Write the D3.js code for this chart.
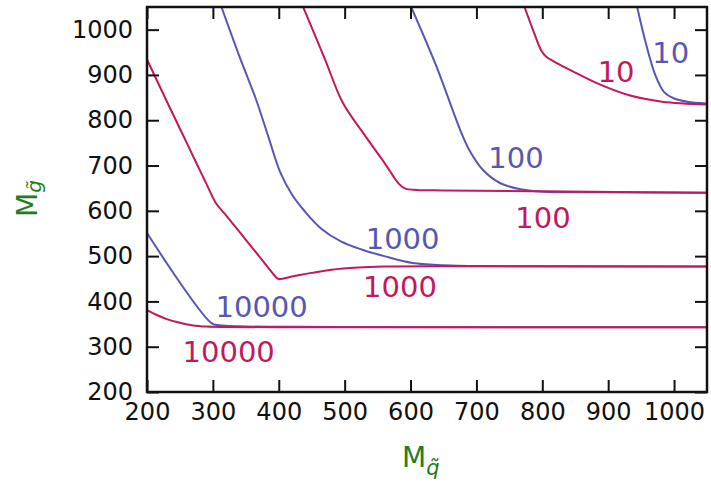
<!DOCTYPE html>
<html>
<head>
<meta charset="utf-8">
<script src="https://cdn.jsdelivr.net/npm/d3@7"></script>
<style>
  body { margin: 0; background: #fff; }
  svg { display: block; font-family: "DejaVu Sans", Verdana, sans-serif; }
</style>
</head>
<body>
<svg id="chart" width="711" height="488"></svg>
<script>
// contour lines, [M_squark, M_gluino]
const red10000 = [[200,381],[215,370],[230,361],[250,353],[270,347],[290,344.5],[320,343.5],[400,343],[600,343],[1050,343]];
const blue10000 = [[200,551],[298,352],[310,347.5],[340,345],[400,344],[500,343.5],[1050,343]];
const red1000 = [[200,934],[230,842],[260,751],[290,660],[305,616],[320,590],[345,545],[370,500],[392,460],[399,450],[420,455],[450,463],[480,470],[520,475],[560,477],[700,477.5],[1050,477]];
const blue1000 = [[313,1050],[340,942],[365,848],[385,760],[402,686],[420,636],[440,598],[465,560],[495,532],[527,514],[560,500],[603,485],[650,480],[704,478],[1050,477]];
const red100 = [[437,1050],[470,935],[497,839],[528,772],[560,707],[582,660],[592,649],[610,646],[650,645],[800,643],[1050,640]];
const blue100 = [[601,1050],[639,920],[675,780],[690,732],[710,690],[735,662],[765,648],[800,642],[900,641],[1050,640]];
const red10 = [[773,1050],[787,995],[798,955],[806,940],[820,928],[845,909],[881,883],[932,855],[982,841],[1050,835]];
const blue10 = [[944,1050],[957,971],[972,898],[985,862],[1000,848],[1020,841],[1050,837]];

// contour level labels with their anchor in data units
const labelText = ["10", "10", "100", "100", "1000", "1000", "10000", "10000"];
const labelSeries = ["blue", "red", "blue", "red", "blue", "red", "blue", "red"];
const labelAt = [[995,926],[912,884],[760,694],[801,562],[588,516],[584,410],[374,366],[324,266]];

const xTicks = [200, 300, 400, 500, 600, 700, 800, 900, 1000];
const yTicks = [200, 300, 400, 500, 600, 700, 800, 900, 1000];

const colors = { red: "#c4175c", blue: "#5757b3" };
const green = "#1f7d22";

const margin = { left: 147, top: 7, right: 4, bottom: 96 };
const W = 711, H = 488;

const svg = d3.select("#chart");

const x = d3.scaleLinear().domain([200, 1050]).range([margin.left, W - margin.right]);
const y = d3.scaleLinear().domain([200, 1050]).range([H - margin.bottom, margin.top]);

svg.append("defs").append("clipPath").attr("id", "plot-clip")
  .append("rect")
  .attr("x", margin.left).attr("y", margin.top)
  .attr("width", x(1050) - x(200)).attr("height", y(200) - y(1050));

const line = d3.line()
  .x(d => x(d[0]))
  .y(d => y(d[1]))
  .curve(d3.curveCatmullRom.alpha(0.5));

// blue first so the red lines sit on top where they merge
const series = [
  { data: blue10000, c: "blue" }, { data: blue1000, c: "blue" },
  { data: blue100, c: "blue" }, { data: blue10, c: "blue" },
  { data: red10000, c: "red" }, { data: red1000, c: "red" },
  { data: red100, c: "red" }, { data: red10, c: "red" }
];

svg.append("g").attr("clip-path", "url(#plot-clip)")
  .selectAll("path")
  .data(series)
  .enter()
  .append("path")
  .attr("d", d => line(d.data))
  .attr("fill", "none")
  .attr("stroke", d => colors[d.c])
  .attr("stroke-width", 2);

svg.append("g")
  .selectAll("text")
  .data(labelText)
  .enter()
  .append("text")
  .attr("x", (d, i) => x(labelAt[i][0]))
  .attr("y", (d, i) => y(labelAt[i][1]))
  .attr("text-anchor", "middle")
  .attr("font-size", 29)
  .attr("fill", (d, i) => colors[labelSeries[i]])
  .text(d => d);

// axes, ticks pointing inward on all four sides
const tickLen = 12;
const fmt = d3.format("d");
const gx = svg.append("g")
  .attr("transform", `translate(0,${y(200)})`)
  .call(d3.axisBottom(x).tickValues(xTicks).tickFormat(fmt).tickSize(-tickLen).tickPadding(11));
const gy = svg.append("g")
  .attr("transform", `translate(${x(200)},0)`)
  .call(d3.axisLeft(y).tickValues(yTicks).tickFormat(fmt).tickSize(-tickLen).tickPadding(14));
const gt = svg.append("g")
  .attr("transform", `translate(0,${y(1050)})`)
  .call(d3.axisTop(x).tickValues(xTicks).tickSize(-tickLen).tickFormat(""));
const gr = svg.append("g")
  .attr("transform", `translate(${x(1050)},0)`)
  .call(d3.axisRight(y).tickValues(yTicks).tickSize(-tickLen).tickFormat(""));

[gx, gy, gt, gr].forEach(g => {
  g.select(".domain").remove();
  g.selectAll(".tick line").attr("stroke", "#111").attr("stroke-width", 2);
  g.selectAll(".tick text")
    .attr("fill", "#111")
    .attr("font-size", 24)
    .attr("font-family", "DejaVu Sans, sans-serif");
});

svg.append("rect")
  .attr("x", x(200)).attr("y", y(1050))
  .attr("width", x(1050) - x(200)).attr("height", y(200) - y(1050))
  .attr("fill", "none")
  .attr("stroke", "#111")
  .attr("stroke-width", 2.5);

// axis titles
const xTitle = svg.append("text")
  .attr("x", 402).attr("y", 467)
  .attr("fill", green)
  .attr("font-size", 28);
xTitle.append("tspan").text("M");
xTitle.append("tspan")
  .attr("dy", 8).attr("font-size", 21).attr("font-style", "italic")
  .text("q\u0303");

const yTitle = svg.append("text")
  .attr("transform", "translate(37,217) rotate(-90)")
  .attr("fill", green)
  .attr("font-size", 28);
yTitle.append("tspan").text("M");
yTitle.append("tspan")
  .attr("dy", 4).attr("font-size", 20).attr("font-style", "italic")
  .text("g\u0303");
</script>
</body>
</html>
